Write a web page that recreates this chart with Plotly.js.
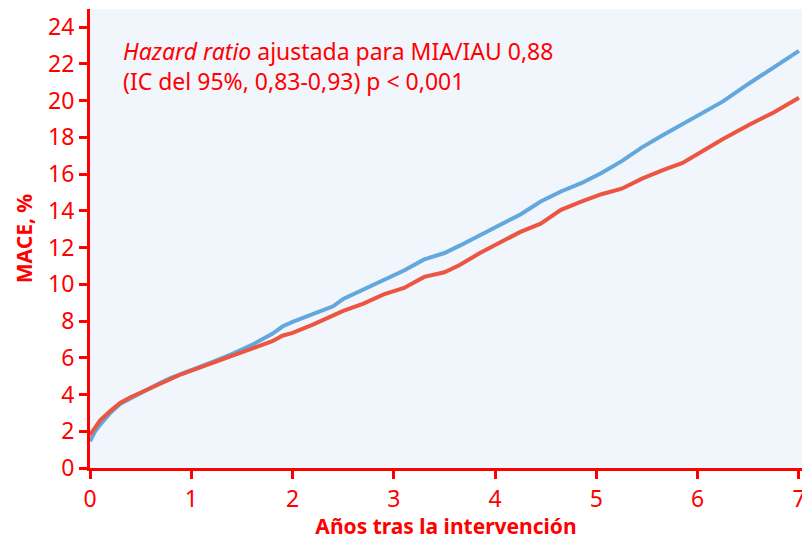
<!DOCTYPE html>
<html>
<head>
<meta charset="utf-8">
<script src="https://cdn.plot.ly/plotly-3.0.1.min.js"></script>
<style>html,body{margin:0;padding:0;background:#fff;}#chart{width:802px;height:540px;}</style>
</head>
<body>
<div id="chart"></div>
<script>
// Years after intervention
const yearsBlue = [0,0.05,0.1,0.2,0.3,0.4,0.5,0.6,0.7,0.8,0.9,1.0,1.2,1.4,1.6,1.8,1.9,2.0,2.2,2.4,2.5,2.7,2.9,3.1,3.3,3.5,3.65,3.85,4.05,4.25,4.45,4.65,4.85,5.05,5.25,5.45,5.65,5.85,6.05,6.25,6.5,6.75,7.0];
const maceBlue = [1.45,2.0,2.35,3.0,3.5,3.8,4.1,4.4,4.65,4.9,5.1,5.3,5.75,6.2,6.7,7.3,7.7,7.95,8.35,8.8,9.2,9.7,10.25,10.75,11.35,11.7,12.1,12.65,13.2,13.8,14.5,15.05,15.5,16.05,16.7,17.45,18.1,18.7,19.3,19.95,20.9,21.8,22.7];
const yearsRed = [0,0.05,0.1,0.2,0.3,0.4,0.5,0.6,0.7,0.8,0.9,1.0,1.2,1.4,1.6,1.8,1.9,2.0,2.2,2.4,2.5,2.7,2.9,3.1,3.3,3.5,3.65,3.85,4.05,4.25,4.45,4.65,4.85,5.05,5.25,5.45,5.65,5.85,6.05,6.25,6.5,6.75,7.0];
const maceRed = [1.8,2.25,2.6,3.1,3.55,3.85,4.1,4.4,4.65,4.9,5.1,5.3,5.7,6.05,6.5,6.9,7.2,7.35,7.8,8.3,8.55,8.95,9.45,9.8,10.4,10.65,11.05,11.7,12.25,12.85,13.3,14.05,14.5,14.9,15.2,15.75,16.2,16.6,17.25,17.9,18.65,19.35,20.15];
const xTicks = [0,1,2,3,4,5,6,7];
const yTicks = [0,2,4,6,8,10,12,14,16,18,20,22,24];
const annotationText = "<i>Hazard ratio</i> ajustada para MIA/IAU 0,88<br>(IC del 95%, 0,83-0,93) p &lt; 0,001";
const xTitle = "Años tras la intervención";
const yTitle = "MACE, %";

const RED = "#FF0000";
const FONT = "Noto Sans, Open Sans, sans-serif";

const traces = [
  {x: yearsBlue, y: maceBlue, type: "scatter", mode: "lines", line: {color: "#62A8DD", width: 4}, hoverinfo: "skip"},
  {x: yearsRed, y: maceRed, type: "scatter", mode: "lines", line: {color: "#EC5540", width: 4}, hoverinfo: "skip"}
];

const layout = {
  width: 802, height: 540,
  margin: {l: 90, r: 0, t: 9, b: 72},
  paper_bgcolor: "#FFFFFF",
  plot_bgcolor: "#F1F5FC",
  showlegend: false,
  font: {family: FONT, color: RED},
  xaxis: {
    range: [0, 7.03], tickvals: xTicks, ticktext: xTicks.map(String),
    showgrid: false, zeroline: false,
    showline: true, linecolor: RED, linewidth: 3,
    ticks: "outside", ticklen: 8, tickwidth: 3, tickcolor: RED,
    ticklabeloverflow: "allow",
    tickfont: {size: 23, color: RED, family: FONT},
    title: {text: "<b>" + xTitle + "</b>", font: {size: 21, color: RED, family: FONT}, standoff: 6}
  },
  yaxis: {
    range: [0, 24.98], tickvals: yTicks, ticktext: yTicks.map(String),
    showgrid: false, zeroline: false,
    showline: true, linecolor: RED, linewidth: 3,
    ticks: "outside", ticklen: 8, tickwidth: 3, tickcolor: RED,
    tickfont: {size: 23, color: RED, family: FONT},
    title: {text: "<b>" + yTitle + "</b>", font: {size: 21, color: RED, family: FONT}, standoff: 10}
  },
  annotations: [{
    xref: "paper", yref: "paper", x: 0.043, y: 0.948,
    xanchor: "left", yanchor: "top", align: "left", showarrow: false,
    text: annotationText,
    font: {size: 23, color: RED, family: FONT}
  }]
};

Plotly.newPlot("chart", traces, layout, {staticPlot: true, displayModeBar: false});
</script>
</body>
</html>
